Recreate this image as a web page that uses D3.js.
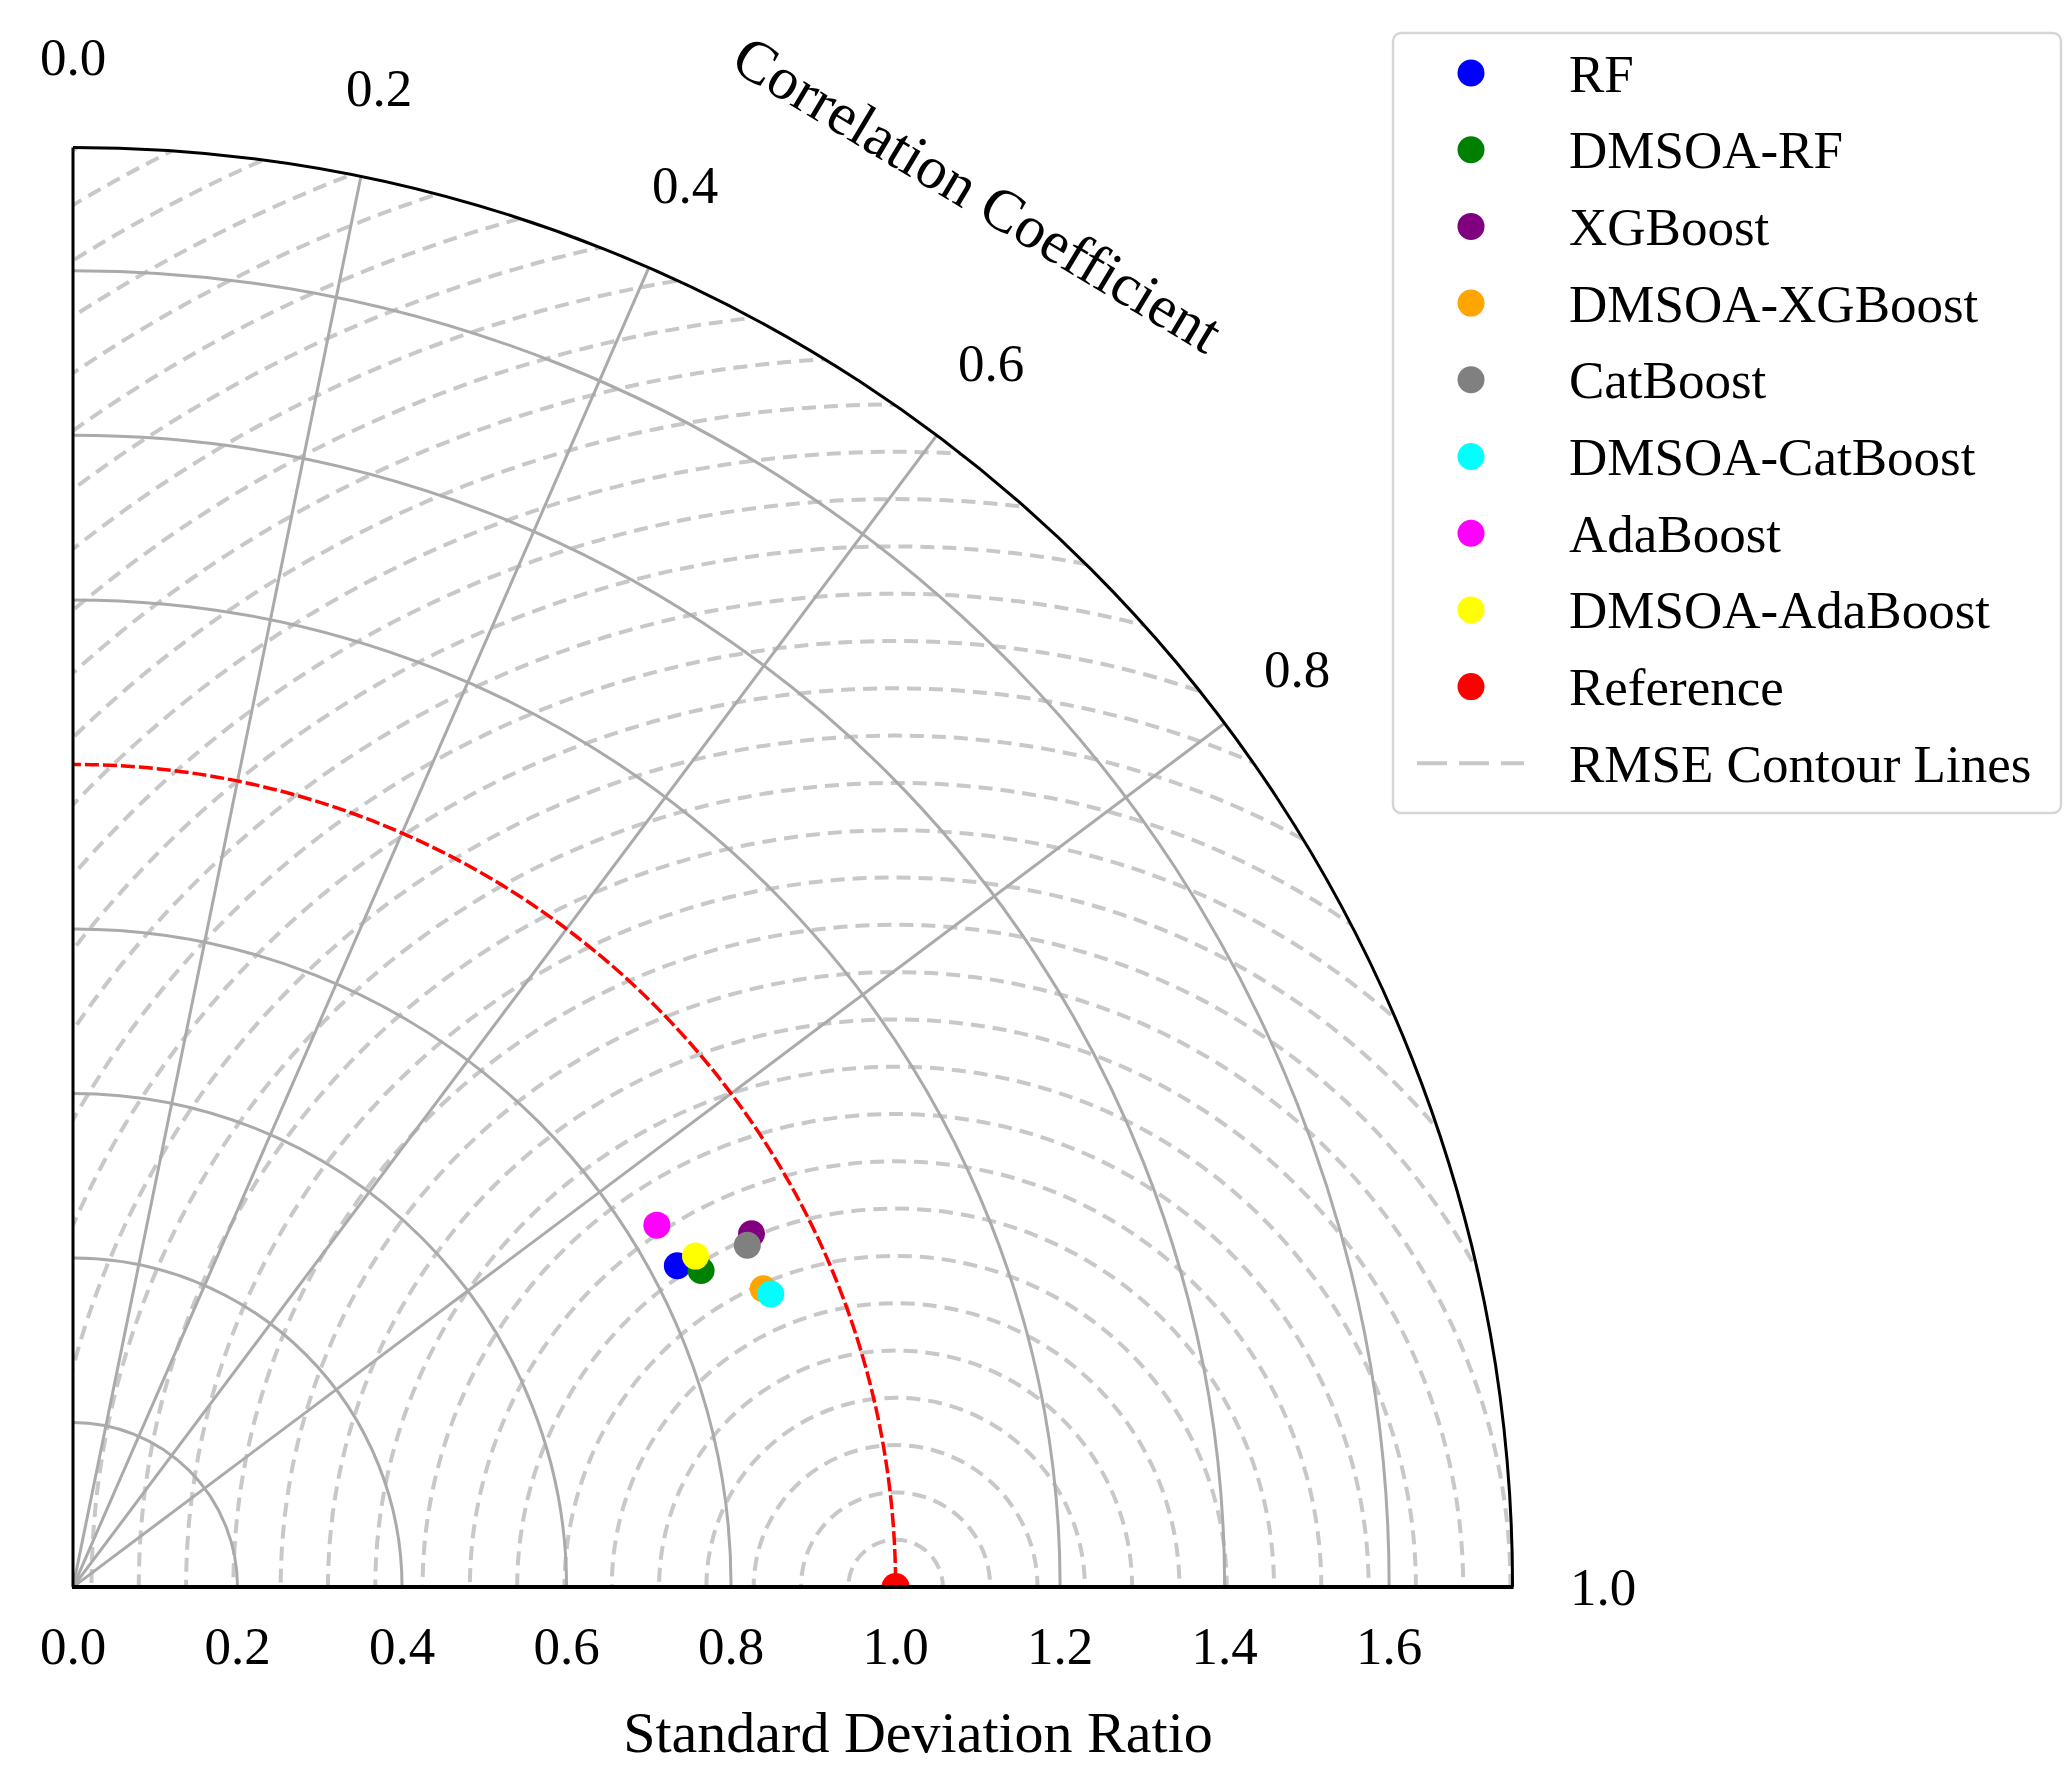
<!DOCTYPE html>
<html>
<head>
<meta charset="utf-8">
<script src="https://cdn.jsdelivr.net/npm/d3@7"></script>
<style>
  body { margin: 0; background: #fff; }
  text { font-family: "Liberation Serif", "Times New Roman", serif; fill: #000; }
</style>
</head>
<body>
<svg id="chart" width="2064" height="1767"></svg>
<script>
// model names, colours and their (std ratio, correlation)
const models = ["RF", "DMSOA-RF", "XGBoost", "DMSOA-XGBoost", "CatBoost",
  "DMSOA-CatBoost", "AdaBoost", "DMSOA-AdaBoost"];
const colours = ["blue", "green", "purple", "orange", "grey", "cyan", "magenta", "yellow"];
const stdRatio = [0.832, 0.855, 0.930, 0.914, 0.919, 0.920, 0.835, 0.857];
const corrValues = [0.883, 0.893, 0.887, 0.918, 0.892, 0.922, 0.850, 0.883];

const stdTicks = [0.0, 0.2, 0.4, 0.6, 0.8, 1.0, 1.2, 1.4, 1.6];
const stdArcs = [0.2, 0.4, 0.6, 0.8, 1.2, 1.4, 1.6];
const corrTicks = [0.0, 0.2, 0.4, 0.6, 0.8, 1.0];
const corrLines = [0.2, 0.4, 0.6, 0.8];
const rmseStep = 0.0575;
const rmseLevels = d3.range(1, 40).map((k) => k * rmseStep);
const maxStd = 1.75;

const svg = d3.select("#chart");
const origin = { x: 73, y: 1587 };
const unit = 822.6;

const x = d3.scaleLinear().domain([0, maxStd]).range([origin.x, origin.x + maxStd * unit]);
const y = d3.scaleLinear().domain([0, maxStd]).range([origin.y, origin.y - maxStd * unit]);
const r = (v) => v * unit;

const polar = (s, c) => {
  const a = Math.acos(c);
  return [x(s * Math.cos(a)), y(s * Math.sin(a))];
};

// quarter-circle clip
const wedge = d3.path();
wedge.moveTo(origin.x, origin.y);
wedge.lineTo(x(maxStd), origin.y);
wedge.arc(origin.x, origin.y, r(maxStd), 0, -Math.PI / 2, true);
wedge.closePath();
svg.append("clipPath").attr("id", "wedge").append("path").attr("d", wedge.toString());

const plot = svg.append("g").attr("clip-path", "url(#wedge)");

// RMSE contours around reference point
plot.selectAll(".rmse")
  .data(rmseLevels)
  .enter()
  .append("circle")
  .attr("class", "rmse")
  .attr("cx", x(1))
  .attr("cy", y(0))
  .attr("r", (d) => r(d))
  .attr("fill", "none")
  .attr("stroke", "#c8c8c8")
  .attr("stroke-width", 4)
  .attr("stroke-dasharray", "14,8");

// std arcs
plot.selectAll(".stdArc")
  .data(stdArcs)
  .enter()
  .append("circle")
  .attr("class", "stdArc")
  .attr("cx", origin.x)
  .attr("cy", origin.y)
  .attr("r", (d) => r(d))
  .attr("fill", "none")
  .attr("stroke", "#aaaaaa")
  .attr("stroke-width", 3);

// correlation radials
plot.selectAll(".corrLine")
  .data(corrLines)
  .enter()
  .append("line")
  .attr("class", "corrLine")
  .attr("x1", origin.x)
  .attr("y1", origin.y)
  .attr("x2", (d) => polar(maxStd, d)[0])
  .attr("y2", (d) => polar(maxStd, d)[1])
  .attr("stroke", "#aaaaaa")
  .attr("stroke-width", 3);

// reference std = 1 arc
plot.append("circle")
  .attr("cx", origin.x)
  .attr("cy", origin.y)
  .attr("r", r(1))
  .attr("fill", "none")
  .attr("stroke", "red")
  .attr("stroke-width", 3.5)
  .attr("stroke-dasharray", "14,4");

// model points
plot.selectAll(".model")
  .data(models)
  .enter()
  .append("circle")
  .attr("class", "model")
  .attr("cx", (d, i) => polar(stdRatio[i], corrValues[i])[0])
  .attr("cy", (d, i) => polar(stdRatio[i], corrValues[i])[1])
  .attr("r", 13.5)
  .attr("fill", (d, i) => colours[i]);

plot.append("circle")
  .attr("cx", x(1))
  .attr("cy", y(0))
  .attr("r", 14)
  .attr("fill", "red");

// frame
const outer = d3.path();
outer.moveTo(x(maxStd), origin.y);
outer.arc(origin.x, origin.y, r(maxStd), 0, -Math.PI / 2, true);
svg.append("path").attr("d", outer.toString())
  .attr("fill", "none").attr("stroke", "#000").attr("stroke-width", 3);
svg.append("line")
  .attr("x1", origin.x).attr("y1", origin.y).attr("x2", origin.x).attr("y2", y(maxStd))
  .attr("stroke", "#000").attr("stroke-width", 3);
svg.append("line")
  .attr("x1", origin.x - 1).attr("y1", origin.y).attr("x2", x(maxStd) + 1).attr("y2", origin.y)
  .attr("stroke", "#000").attr("stroke-width", 4);

// x tick labels
svg.selectAll(".xtick")
  .data(stdTicks)
  .enter()
  .append("text")
  .attr("class", "xtick")
  .attr("x", (d) => x(d))
  .attr("y", 1664)
  .attr("text-anchor", "middle")
  .style("font-size", "53px")
  .text((d) => d.toFixed(1));

svg.append("text")
  .attr("x", 918)
  .attr("y", 1752)
  .attr("text-anchor", "middle")
  .style("font-size", "58px")
  .text("Standard Deviation Ratio");

// correlation tick labels
svg.selectAll(".ctick")
  .data(corrTicks)
  .enter()
  .append("text")
  .attr("class", "ctick")
  .attr("x", (d) => polar(1.86, d)[0])
  .attr("y", (d) => polar(1.86, d)[1] + 18)
  .attr("text-anchor", "middle")
  .style("font-size", "53px")
  .text((d) => d.toFixed(1));

const titlePos = polar(2.02, Math.cos(57 * Math.PI / 180));
svg.append("text")
  .attr("transform", `translate(${titlePos[0]},${titlePos[1]}) rotate(31)`)
  .attr("text-anchor", "middle")
  .attr("dy", "0.35em")
  .style("font-size", "60px")
  .text("Correlation Coefficient");

// legend
const legend = svg.append("g").attr("transform", "translate(1393,33)");
legend.append("rect")
  .attr("width", 668).attr("height", 780).attr("rx", 8)
  .attr("fill", "#fff").attr("stroke", "#d6d6d6").attr("stroke-width", 2.5);

const legendNames = models.concat(["Reference"]);
const legendColours = colours.concat(["red"]);
const rowY = (i) => 40 + i * 76.7;

legend.selectAll(".ldot")
  .data(legendNames)
  .enter()
  .append("circle")
  .attr("cx", 78)
  .attr("cy", (d, i) => rowY(i))
  .attr("r", 13.5)
  .attr("fill", (d, i) => legendColours[i]);

legend.append("line")
  .attr("x1", 24).attr("x2", 131)
  .attr("y1", rowY(9)).attr("y2", rowY(9))
  .attr("stroke", "#c8c8c8").attr("stroke-width", 4)
  .attr("stroke-dasharray", "30,12");

legend.selectAll(".ltext")
  .data(legendNames.concat(["RMSE Contour Lines"]))
  .enter()
  .append("text")
  .attr("x", 176)
  .attr("y", (d, i) => rowY(i))
  .attr("dy", "0.35em")
  .style("font-size", "53px")
  .text((d) => d);
</script>
</body>
</html>
